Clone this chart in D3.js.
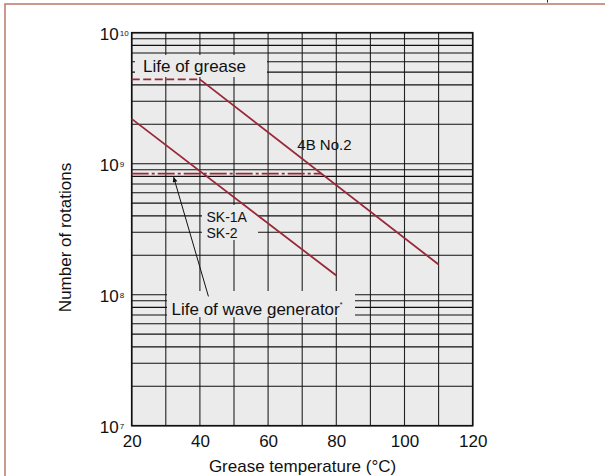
<!DOCTYPE html>
<html><head><meta charset="utf-8">
<script src="https://cdn.jsdelivr.net/npm/d3@7"></script>
<style>
html,body{margin:0;padding:0;background:#fff;}
svg{display:block;font-family:"Liberation Sans",Arial,Helvetica,sans-serif;}
</style></head>
<body>
<svg id="c" width="605" height="476"></svg>
<script>
// ---- data ----
const xTicks = [20, 40, 60, 80, 100, 120];
const yTickExps = [7, 8, 9, 10];
const greaseLevelTemps = [20, 40];
const greaseLevelRot = [4.4e9, 4.4e9];
const grease4BTemps = [40, 110];
const grease4BRot = [4.4e9, 1.7e8];
const greaseSKTemps = [20, 80];
const greaseSKRot = [2.2e9, 1.4e8];
const waveGenTemps = [20, 75.6];
const waveGenRot = [8.4e8, 8.4e8];
const labels = {grease: "Life of grease", wave: "Life of wave generator", b4: "4B No.2", sk: ["SK-1A", "SK-2"]};
const xTitle = "Grease temperature (°C)";
const yTitle = "Number of rotations";

// ---- layout ----
const svg = d3.select("#c");
const x = d3.scaleLinear().domain([20, 120]).range([131.7, 472.7]);
const y = d3.scaleLog().domain([1e7, 1e10]).range([425.7, 32.7]);
const red = "#982837";
const bg = "#ebebeb";

// page frame
svg.append("rect").attr("x", 5).attr("y", 4).attr("width", 700).attr("height", 600)
  .attr("fill", "none").attr("stroke", "#bf8170").attr("stroke-width", 1.6);
svg.append("line").attr("x1", 547.5).attr("x2", 547.5).attr("y1", 0).attr("y2", 2.5)
  .attr("stroke", "#222").attr("stroke-width", 1);

// plot background
svg.append("rect").attr("x", x(20)).attr("y", y(1e10))
  .attr("width", x(120) - x(20)).attr("height", y(1e7) - y(1e10)).attr("fill", bg);

// grid
const g = svg.append("g");
g.selectAll("line.v").data(d3.range(20, 121, 10)).join("line")
  .attr("x1", d => x(d)).attr("x2", d => x(d)).attr("y1", y(1e10)).attr("y2", y(1e7))
  .attr("stroke", "#222").attr("stroke-width", 1.1);
g.selectAll("line.h").data(y.ticks()).join("line")
  .attr("x1", x(20)).attr("x2", x(120)).attr("y1", d => y(d)).attr("y2", d => y(d))
  .attr("stroke", "#111").attr("stroke-width", 1.1);

// label masks
function mask(x0, y0, x1, y1) {
  svg.append("rect").attr("x", x0).attr("y", y0).attr("width", x1 - x0).attr("height", y1 - y0).attr("fill", bg);
}
mask(135, 55, 267, 77);
mask(202, 205, 258, 240);
mask(167, 291, 355, 317);

// border
svg.append("rect").attr("x", x(20)).attr("y", y(1e10))
  .attr("width", x(120) - x(20)).attr("height", y(1e7) - y(1e10))
  .attr("fill", "none").attr("stroke", "#111").attr("stroke-width", 1.6);

// series lines
const line = d3.line().x(d => x(d[0])).y(d => y(d[1]));
const zip = (a, b) => a.map((v, i) => [v, b[i]]);
svg.append("path").attr("d", line(zip(greaseLevelTemps, greaseLevelRot)))
  .attr("fill", "none").attr("stroke", red).attr("stroke-width", 1.8).attr("stroke-dasharray", "8,3.5");
svg.append("path").attr("d", line(zip(grease4BTemps, grease4BRot)))
  .attr("fill", "none").attr("stroke", red).attr("stroke-width", 1.8);
svg.append("path").attr("d", line(zip(greaseSKTemps, greaseSKRot)))
  .attr("fill", "none").attr("stroke", red).attr("stroke-width", 1.8);
svg.append("path").attr("d", line(zip(waveGenTemps, waveGenRot)))
  .attr("fill", "none").attr("stroke", red).attr("stroke-width", 1.8).attr("stroke-dasharray", "17,3,3,3");

// x axis
const xa = svg.append("g").attr("transform", `translate(0,${y(1e7)})`)
  .call(d3.axisBottom(x).tickValues(xTicks).tickSize(0).tickPadding(9).tickFormat(d3.format("d")));
xa.select(".domain").remove();
xa.selectAll("text").attr("font-size", 17).attr("fill", "#111").attr("font-family", "Liberation Sans, Arial, sans-serif");

// y axis
const ya = svg.append("g").attr("transform", `translate(${x(20)},0)`)
  .call(d3.axisLeft(y).tickValues(yTickExps.map(e => Math.pow(10, e))).tickSize(0).tickFormat(""));
ya.select(".domain").remove();
ya.selectAll(".tick").each(function(d) {
  const t = d3.select(this).select("text");
  t.attr("x", null).attr("dy", null).attr("y", 7).attr("fill", "#111")
   .attr("font-family", "Liberation Sans, Arial, sans-serif");
  t.append("tspan").attr("x", -13).attr("text-anchor", "end").attr("font-size", 17).text("10");
  t.append("tspan").attr("x", -12).attr("y", 3).attr("text-anchor", "start").attr("font-size", 8)
    .text(String(Math.round(Math.log10(d))));
});

// titles
svg.append("text").attr("x", 302.5).attr("y", 472).attr("text-anchor", "middle")
  .attr("font-size", 17).attr("fill", "#111").text(xTitle);
svg.append("text").attr("transform", "translate(70.5,237.5) rotate(-90)").attr("text-anchor", "middle")
  .attr("font-size", 17).attr("fill", "#111").text(yTitle);

// labels
svg.append("text").attr("x", 143).attr("y", 72.3).attr("font-size", 17).attr("fill", "#111").text(labels.grease);
svg.append("text").attr("x", 297.3).attr("y", 150).attr("font-size", 15).attr("fill", "#111").text(labels.b4);
svg.selectAll("text.sk").data(labels.sk).join("text").attr("class", "sk")
  .attr("x", 206.5).attr("y", (d, i) => 221.5 + i * 16).attr("font-size", 14).attr("fill", "#111").text(d => d);
const wt = svg.append("text").attr("x", 171.5).attr("y", 315).attr("font-size", 17).attr("fill", "#111");
wt.append("tspan").text(labels.wave);
wt.append("tspan").attr("font-size", 7).attr("dy", -8).text("*");

// arrow
const ax0 = x(42.5), ay0 = y(0.97e8), ax1 = x(32.3), ay1 = y(waveGenRot[0]) + 3.5;
svg.append("defs").append("marker").attr("id", "ah").attr("viewBox", "0 0 10 10")
  .attr("refX", 10).attr("refY", 5).attr("markerWidth", 9).attr("markerHeight", 5)
  .attr("markerUnits", "userSpaceOnUse").attr("orient", "auto")
  .append("path").attr("d", "M0,0 L10,5 L0,10 z").attr("fill", "#111");
svg.append("line").attr("x1", ax0).attr("y1", ay0).attr("x2", ax1).attr("y2", ay1)
  .attr("stroke", "#111").attr("stroke-width", 1).attr("marker-end", "url(#ah)");
</script>
</body></html>
